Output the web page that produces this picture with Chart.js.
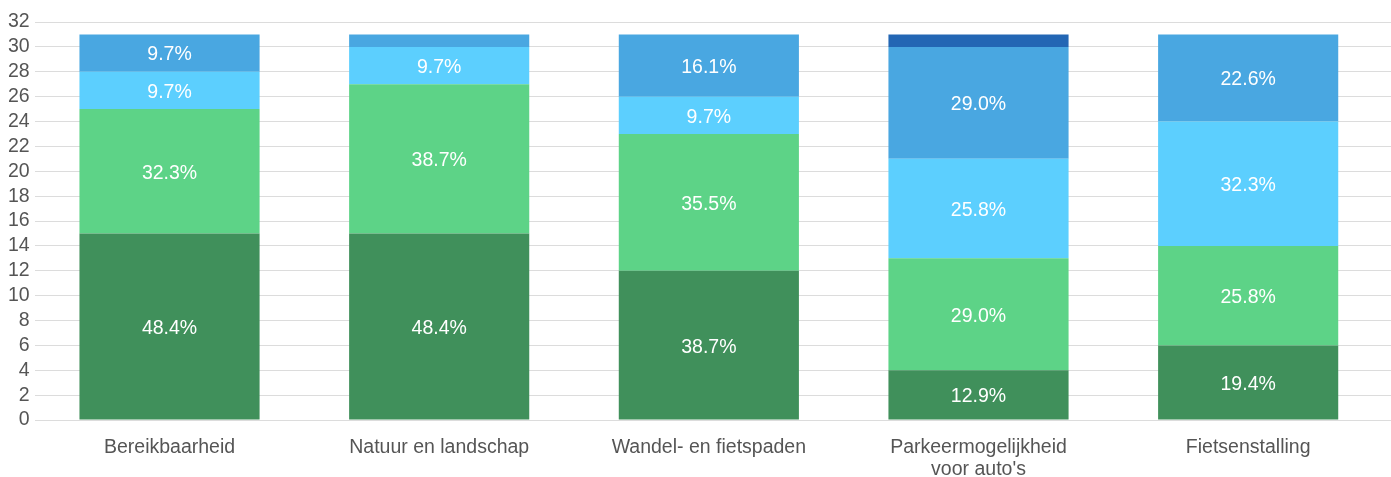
<!DOCTYPE html>
<html>
<head>
<meta charset="utf-8">
<script src="https://cdn.jsdelivr.net/npm/chart.js@4/dist/chart.umd.min.js"></script>
<style>
  html, body { margin: 0; padding: 0; background: #fff; }
  #wrap { width: 1391px; height: 477px; position: relative; }
</style>
</head>
<body>
<div id="wrap"><canvas id="chart"></canvas></div>
<script>
// categorieën en aantallen per antwoord (totaal 31 per vraag)
const categories = ["Bereikbaarheid", "Natuur en landschap", "Wandel- en fietspaden", ["Parkeermogelijkheid", "voor auto's"], "Fietsenstalling"];
const serie1 = [15, 15, 12, 4, 6];
const serie2 = [10, 12, 11, 9, 8];
const serie3 = [3, 3, 3, 8, 10];
const serie4 = [3, 1, 5, 9, 7];
const serie5 = [0, 0, 0, 1, 0];
const yTicks = [0, 32, 2];

const colors = ["#40905b", "#5dd387", "#5ccffe", "#49a7e1", "#2366b4"];
const series = [serie1, serie2, serie3, serie4, serie5];
const fontFam = '"Liberation Sans", Arial, sans-serif';

// percentages in de balken tekenen
const labelPlugin = {
    id: 'pctLabels',
    afterDatasetsDraw(chart) {
        const ctx = chart.ctx;
        ctx.save();
        ctx.fillStyle = '#fff';
        ctx.font = '19.5px ' + fontFam;
        ctx.textAlign = 'center';
        ctx.textBaseline = 'middle';
        chart.data.datasets.forEach((ds, i) => {
            const meta = chart.getDatasetMeta(i);
            meta.data.forEach((bar, j) => {
                const v = ds.data[j];
                let total = 0;
                chart.data.datasets.forEach(d => total += d.data[j]);
                if (v < 2) return;
                const pct = (v / total * 100).toFixed(1) + '%';
                ctx.fillText(pct, bar.x, (bar.y + bar.base) / 2 + 2);
            });
        });
        ctx.restore();
    }
};

// gridlijnen lopen door tot de rand, de categorie-as iets smaller
const shrinkX = {
    id: 'shrinkX',
    afterLayout(chart) {
        const x = chart.scales.x;
        x.right -= 8;
        x.width -= 8;
        x.configure();
    }
};

new Chart(document.getElementById('chart'), {
    type: 'bar',
    data: {
        labels: categories,
        datasets: series.map((s, i) => ({
            label: 'Serie ' + (i + 1),
            data: s,
            backgroundColor: colors[i],
            borderWidth: 0
        }))
    },
    options: {
        responsive: true,
        maintainAspectRatio: false,
        animation: false,
        layout: { padding: { top: 22, right: 0, left: 3, bottom: 0 } },
        plugins: {
            legend: { display: false },
            tooltip: { enabled: false }
        },
        datasets: { bar: { barPercentage: 0.668, categoryPercentage: 1 } },
        scales: {
            x: {
                stacked: true,
                grid: { display: false },
                border: { display: false },
                afterFit: (scale) => { scale.height = 57; },
                ticks: {
                    color: '#555',
                    font: { size: 19.5, family: fontFam, lineHeight: 1.13 },
                    padding: 9,
                    maxRotation: 0
                }
            },
            y: {
                stacked: true,
                min: yTicks[0],
                max: yTicks[1],
                grid: { color: '#dcdcdc', lineWidth: 1, drawTicks: false },
                border: { display: false },
                ticks: {
                    stepSize: yTicks[2],
                    autoSkip: false,
                    color: '#555',
                    font: { size: 19.5, family: fontFam },
                    padding: 5
                }
            }
        }
    },
    plugins: [labelPlugin, shrinkX]
});
</script>
</body>
</html>
